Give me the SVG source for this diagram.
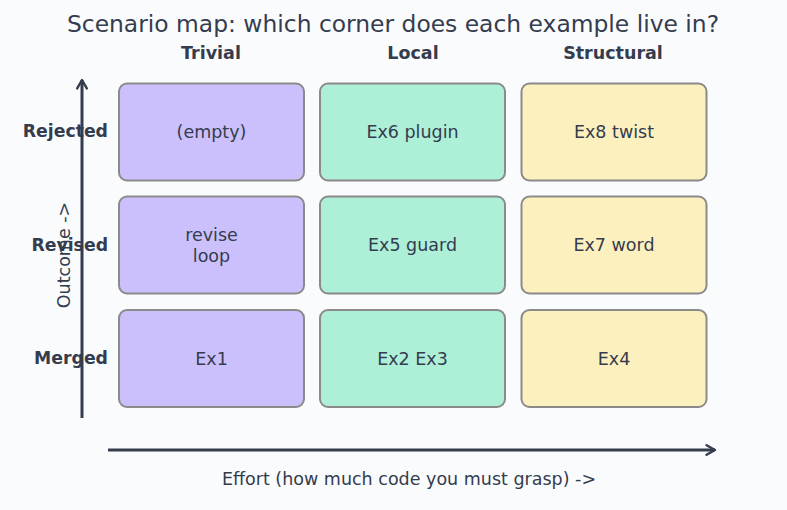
<svg xmlns="http://www.w3.org/2000/svg" width="787" height="510" viewBox="0 0 787 510">
<defs>
<style>
text{font-family:"DejaVu Sans","Liberation Sans",sans-serif;fill:#343c4e}
.title{font-size:23.4px;text-anchor:middle}
.hdr{font-size:17.5px;font-weight:bold;text-anchor:middle}
.row{font-size:17.3px;font-weight:bold;text-anchor:end}
.cell{font-size:17.5px;text-anchor:middle}
.ax{font-size:17.5px;text-anchor:middle}
.box{stroke:#8a8a8a;stroke-width:2}
.p{fill:#cbc0fb}
.g{fill:#aeefd8}
.y{fill:#fdf0bf}
.axis{stroke:#343c4e;stroke-width:3;fill:none}
</style>
<marker id="ah" viewBox="0 0 10 10" refX="8" refY="5" markerWidth="4" markerHeight="4" orient="auto" markerUnits="strokeWidth">
<path d="M1,1 L8,5 L1,9" fill="none" stroke="#343c4e" stroke-width="2" stroke-linecap="round" stroke-linejoin="round"/>
</marker>
</defs>
<rect width="787" height="510" fill="#fafbfd"/>
<text class="title" x="393" y="32">Scenario map: which corner does each example live in?</text>
<text class="hdr" x="211" y="59">Trivial</text>
<text class="hdr" x="413" y="59">Local</text>
<text class="hdr" x="613" y="59">Structural</text>
<g id="connectors">
<line class="axis" x1="82" y1="418" x2="82" y2="80" marker-end="url(#ah)"/>
<line class="axis" x1="108" y1="450" x2="715" y2="450" marker-end="url(#ah)"/>
</g>
<text class="ax" transform="translate(70,255) rotate(-90)">Outcome -&gt;</text>
<text class="ax" x="409" y="485">Effort (how much code you must grasp) -&gt;</text>
<text class="row" x="108" y="137">Rejected</text>
<text class="row" x="108" y="251">Revised</text>
<text class="row" x="108" y="364">Merged</text>
<g id="n-trivial-rejected"><rect class="box p" x="119" y="83.5" width="185" height="97" rx="8"/><text class="cell" x="211.5" y="137.5">(empty)</text></g>
<g id="n-local-rejected"><rect class="box g" x="320" y="83.5" width="185" height="97" rx="8"/><text class="cell" x="412.5" y="137.5">Ex6 plugin</text></g>
<g id="n-structural-rejected"><rect class="box y" x="521.5" y="83.5" width="185" height="97" rx="8"/><text class="cell" x="614" y="137.5">Ex8 twist</text></g>
<g id="n-trivial-revised"><rect class="box p" x="119" y="196.5" width="185" height="97" rx="8"/><text class="cell" x="211.5" y="240.5">revise</text><text class="cell" x="211.5" y="261.5">loop</text></g>
<g id="n-local-revised"><rect class="box g" x="320" y="196.5" width="185" height="97" rx="8"/><text class="cell" x="412.5" y="251">Ex5 guard</text></g>
<g id="n-structural-revised"><rect class="box y" x="521.5" y="196.5" width="185" height="97" rx="8"/><text class="cell" x="614" y="251">Ex7 word</text></g>
<g id="n-trivial-merged"><rect class="box p" x="119" y="310" width="185" height="97" rx="8"/><text class="cell" x="211.5" y="364.5">Ex1</text></g>
<g id="n-local-merged"><rect class="box g" x="320" y="310" width="185" height="97" rx="8"/><text class="cell" x="412.5" y="364.5">Ex2 Ex3</text></g>
<g id="n-structural-merged"><rect class="box y" x="521.5" y="310" width="185" height="97" rx="8"/><text class="cell" x="614" y="364.5">Ex4</text></g>
</svg>
